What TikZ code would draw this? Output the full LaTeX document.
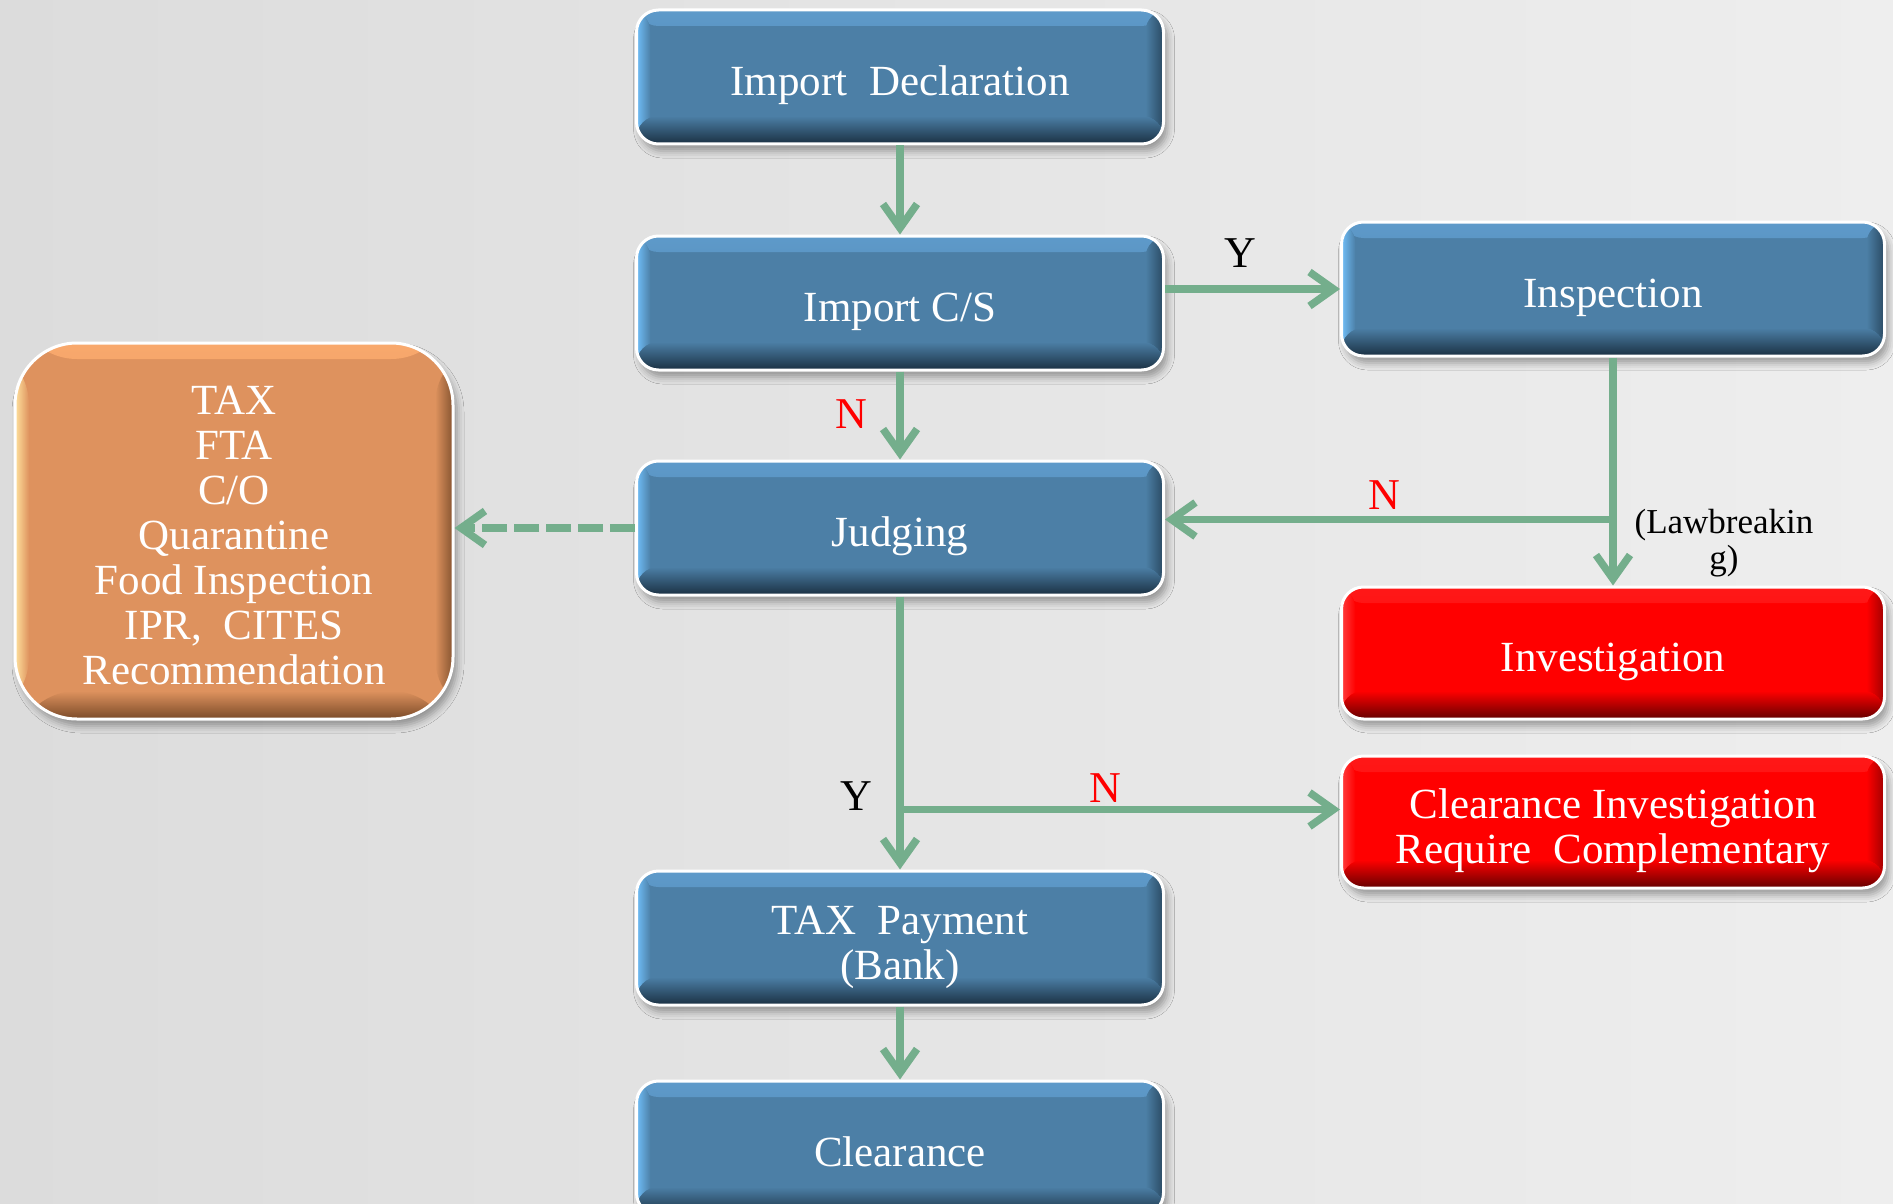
\documentclass[tikz,border=0pt]{standalone}
\usepackage{fontspec}
\setmainfont{Liberation Serif}
\usetikzlibrary{arrows.meta,shadows.blur}

% palette
\definecolor{flowgreen}{RGB}{116,174,140}
\definecolor{bluemain}{RGB}{76,127,166}
\definecolor{bluetop}{RGB}{94,154,202}
\definecolor{bluebot}{RGB}{26,48,66}
\definecolor{blueleft}{RGB}{112,190,248}
\definecolor{blueright}{RGB}{42,74,98}
\definecolor{redmain}{RGB}{255,0,0}
\definecolor{redtop}{RGB}{255,24,24}
\definecolor{redbot}{RGB}{100,0,0}
\definecolor{redleft}{RGB}{255,60,60}
\definecolor{redright}{RGB}{160,0,0}
\definecolor{orgmain}{RGB}{222,146,94}
\definecolor{orgtop}{RGB}{248,168,108}
\definecolor{orgbot}{RGB}{122,74,40}
\definecolor{orgleft}{RGB}{255,226,158}
\definecolor{orgright}{RGB}{134,84,48}
\definecolor{bgleft}{RGB}{220,220,220}
\definecolor{bgmid}{RGB}{228,228,228}
\definecolor{bgright}{RGB}{238,238,238}

% centred lines, set a little below the middle of their box
% (the box keeps its size, only the lines move down)
\newcommand\boxlines[1]{%
  \raisebox{-9.5pt}[\height][\depth]{\begin{tabular}{@{}c@{}}#1\end{tabular}}}

\tikzset{
  % bevelled fill: main, top edge, bottom edge, left edge, right edge
  bevel/.style n args={5}{
    fill=#1,
    path picture={
      \fill[top color=#2, bottom color=#1]
        (path picture bounding box.north west) rectangle
        ([yshift=-16pt]path picture bounding box.north east);
      \fill[left color=#4, right color=#1]
        (path picture bounding box.south west) rectangle
        ([xshift=14pt]path picture bounding box.north west);
      \fill[left color=#1, right color=#5]
        ([xshift=-18pt]path picture bounding box.south east) rectangle
        (path picture bounding box.north east);
      \fill[top color=#1, bottom color=#3]
        ([yshift=28pt]path picture bounding box.south west) rectangle
        (path picture bounding box.south east);
    }
  },
  panel/.style={
    rectangle, draw=white, line width=3pt, inner sep=0pt,
    text=white, font=\fontsize{43}{45}\selectfont,
    blur shadow={shadow xshift=4pt, shadow yshift=-7pt,
                 shadow blur radius=7pt, shadow opacity=35}
  },
  bluebox/.style={panel, rounded corners=22pt,
    minimum width=527pt, minimum height=134pt,
    bevel={bluemain}{bluetop}{bluebot}{blueleft}{blueright}},
  sidebox/.style={bluebox, minimum width=543pt},
  redbox/.style={panel, rounded corners=22pt,
    minimum width=543pt, minimum height=132pt,
    bevel={redmain}{redtop}{redbot}{redleft}{redright}},
  notebox/.style={panel, rounded corners=62pt,
    minimum width=438pt, minimum height=376pt,
    bevel={orgmain}{orgtop}{orgbot}{orgleft}{orgright}},
  flow/.style={draw=flowgreen, line width=7.5pt,
    -{Straight Barb[length=24pt,width=34pt]}},
  flowdash/.style={flow, dash pattern=on 25pt off 7pt},
  yes/.style={text=black, font=\fontsize{44}{46}\selectfont},
  no/.style={text=red, font=\fontsize{44}{46}\selectfont},
  remark/.style={text=black, align=center, font=\fontsize{35}{36}\selectfont}
}

\begin{document}
\begin{tikzpicture}[x=1pt,y=-1pt]
  \path[use as bounding box, clip] (0,0) rectangle (1893,1204);
  \shade[left color=bgleft, middle color=bgmid, right color=bgright]
    (0,0) rectangle (1893,1204);

  % main column
  \node[bluebox] (decl)  at (900,77)   {\boxlines{Import\ \ Declaration}};
  \node[bluebox] (ics)   at (900,303)  {\boxlines{Import C/S}};
  \node[bluebox] (judge) at (900,528)  {\boxlines{Judging}};
  \node[bluebox] (tax)   at (900,938)  {\boxlines{TAX\ \ Payment\\(Bank)}};
  \node[bluebox] (clr)   at (900,1148) {\boxlines{Clearance}};

  % right column
  \node[sidebox] (insp) at (1613,289) {\boxlines{Inspection}};
  \node[redbox]  (inv)  at (1613,653) {\boxlines{Investigation}};
  \node[redbox]  (cinv) at (1613,822)
    {\boxlines{Clearance Investigation\\Require\ \ Complementary}};

  % requirement list
  \node[notebox] (req) at (234,531)
    {\boxlines{TAX\\FTA\\C/O\\Quarantine\\Food Inspection\\IPR,\ \ CITES\\Recommendation}};

  % connectors
  \draw[flow] (decl.south) -- (ics.north);
  \draw[flow] (insp.west -| ics.east) -- (insp.west);
  \draw[flow] (ics.south) -- (judge.north);
  \draw[flow] (insp.south) -- (inv.north);
  \path (insp.south) ++(0,162) coordinate (lb);
  \draw[flow] (lb) -- (lb -| judge.east);
  \draw[flow] (judge.south) -- (tax.north);
  \path (judge.south) ++(0,213) coordinate (jb);
  \draw[flow] (jb) -- (jb -| cinv.west);
  \draw[flow] (tax.south) -- (clr.north);
  \draw[flowdash] (judge.west) -- (judge.west -| req.east);

  % branch labels
  \node[yes] (y1) at (1240,253) {Y};
  \node[no]  (n1) at (851,414)  {N};
  \node[no]  (n2) at (1384,495) {N};
  \node[remark] (lawb) at (1724,543) {(Lawbreakin\\g)};
  \node[yes] (y2) at (856,796)  {Y};
  \node[no]  (n3) at (1105,788) {N};
\end{tikzpicture}
\end{document}
